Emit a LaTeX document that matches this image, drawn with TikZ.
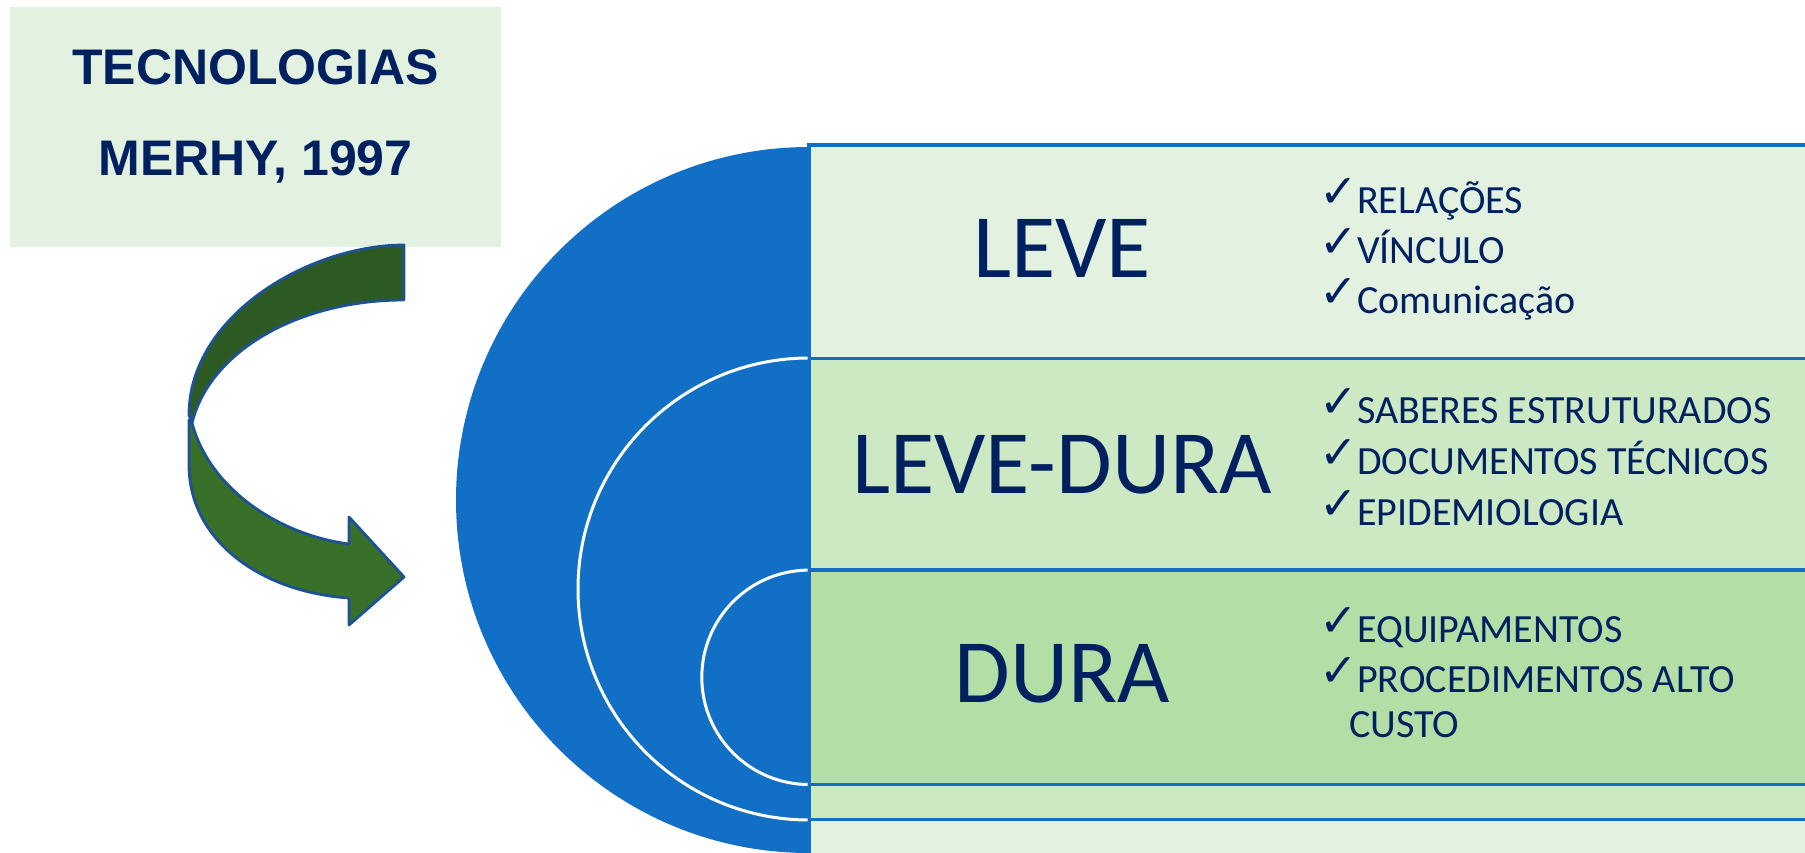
\documentclass[tikz,border=0pt]{standalone}
\usepackage{fontspec}
\setmainfont{Carlito}
\newfontfamily\titlefont{Liberation Sans}
\newfontfamily\symfont{DejaVu Sans}
\definecolor{navy}{HTML}{002060}
\definecolor{tblue}{HTML}{1170C6}
\definecolor{rowA}{HTML}{E3F2E0}
\definecolor{rowB}{HTML}{CCE9C3}
\definecolor{rowC}{HTML}{B3DFA6}
\definecolor{arrowdark}{HTML}{2D5A22}
\definecolor{arrowlight}{HTML}{38702A}
\definecolor{arrowline}{HTML}{1D5394}
\tikzset{
  titletext/.style={inner sep=0pt, text=navy, font=\titlefont\bfseries\fontsize{50}{50}\selectfont},
  bigtext/.style={inner sep=0pt, text=navy, font=\fontsize{90.5}{90.5}\selectfont},
  itemtext/.style={inner sep=0pt, text=navy, font=\fontsize{40}{40}\selectfont, anchor=base west},
  chk/.style={inner sep=0pt, text=navy, font=\symfont\bfseries\fontsize{46}{46}\selectfont, anchor=base east},
  rowbox/.style={draw=tblue, line width=3.5pt},
  arrowpart/.style={draw=arrowline, line width=2.8pt, line join=round},
}
\begin{document}
\begin{tikzpicture}[x=1pt,y=-1pt]
\useasboundingbox (0,0) rectangle (1805,852);
\clip (0,0) rectangle (1805,852);

% title box
\node[fill=rowA, minimum width=491pt, minimum height=240pt, inner sep=0pt] (titlebox) at (255.5,127) {};
\node[titletext, anchor=base] (t1) at (255.5,84) {TECNOLOGIAS};
\node[titletext, anchor=base] (t2) at (255.5,175) {MERHY, 1997};

% curved arrow
\path[arrowpart, fill=arrowlight]
  (192,423) .. controls (210,490) and (280,535) .. (349,544)
  -- (349,517) -- (404,577) -- (349,625) -- (349,598)
  .. controls (260,592) and (189,540) .. (189,465)
  -- (189,420) -- cycle;
\path[arrowpart, fill=arrowdark]
  (404,245) .. controls (310,245) and (189,315) .. (189,415)
  -- (192,423)
  .. controls (210,350) and (300,300) .. (404,300)
  -- cycle;

% nested rectangles
\draw[rowbox, fill=rowA] (809,145) rectangle (1830,900);
\draw[rowbox, fill=rowB] (809,358.5) rectangle (1830,819.5);
\draw[rowbox, fill=rowC] (809,570) rectangle (1830,784.5);

% semicircles
\begin{scope}
\clip (0,0) rectangle (807.5,852);
\fill[tblue] (809,500) circle[radius=353];
\filldraw[fill=tblue, draw=white, line width=3pt] (809,589) circle[radius=231];
\filldraw[fill=tblue, draw=white, line width=3pt] (809,677.3) circle[radius=107.2];
\end{scope}

% big labels
\node[bigtext, anchor=base] (leve) at (1062,277) {LEVE};
\node[bigtext, anchor=base] (levedura) at (1062,493) {LEVE-DURA};
\node[bigtext, anchor=base] (dura) at (1062,702) {DURA};

% bullet items
\node[chk] (c1) at (1358,207) {✓};
\node[itemtext] (i1) at (1357,213) {RELAÇÕES};
\node[chk] (c2) at (1358,257) {✓};
\node[itemtext] (i2) at (1357,263) {VÍNCULO};
\node[chk] (c3) at (1358,307) {✓};
\node[itemtext] (i3) at (1357,313) {Comunicação};

\node[chk] (c4) at (1358,417) {✓};
\node[itemtext] (i4) at (1357,423) {SABERES ESTRUTURADOS};
\node[chk] (c5) at (1358,468) {✓};
\node[itemtext] (i5) at (1357,474) {DOCUMENTOS TÉCNICOS};
\node[chk] (c6) at (1358,519) {✓};
\node[itemtext] (i6) at (1357,525) {EPIDEMIOLOGIA};

\node[chk] (c7) at (1358,636) {✓};
\node[itemtext] (i7) at (1357,642) {EQUIPAMENTOS};
\node[chk] (c8) at (1358,686) {✓};
\node[itemtext] (i8) at (1357,692) {PROCEDIMENTOS ALTO};
\node[itemtext] (i9) at (1349,737) {CUSTO};
\end{tikzpicture}
\end{document}
